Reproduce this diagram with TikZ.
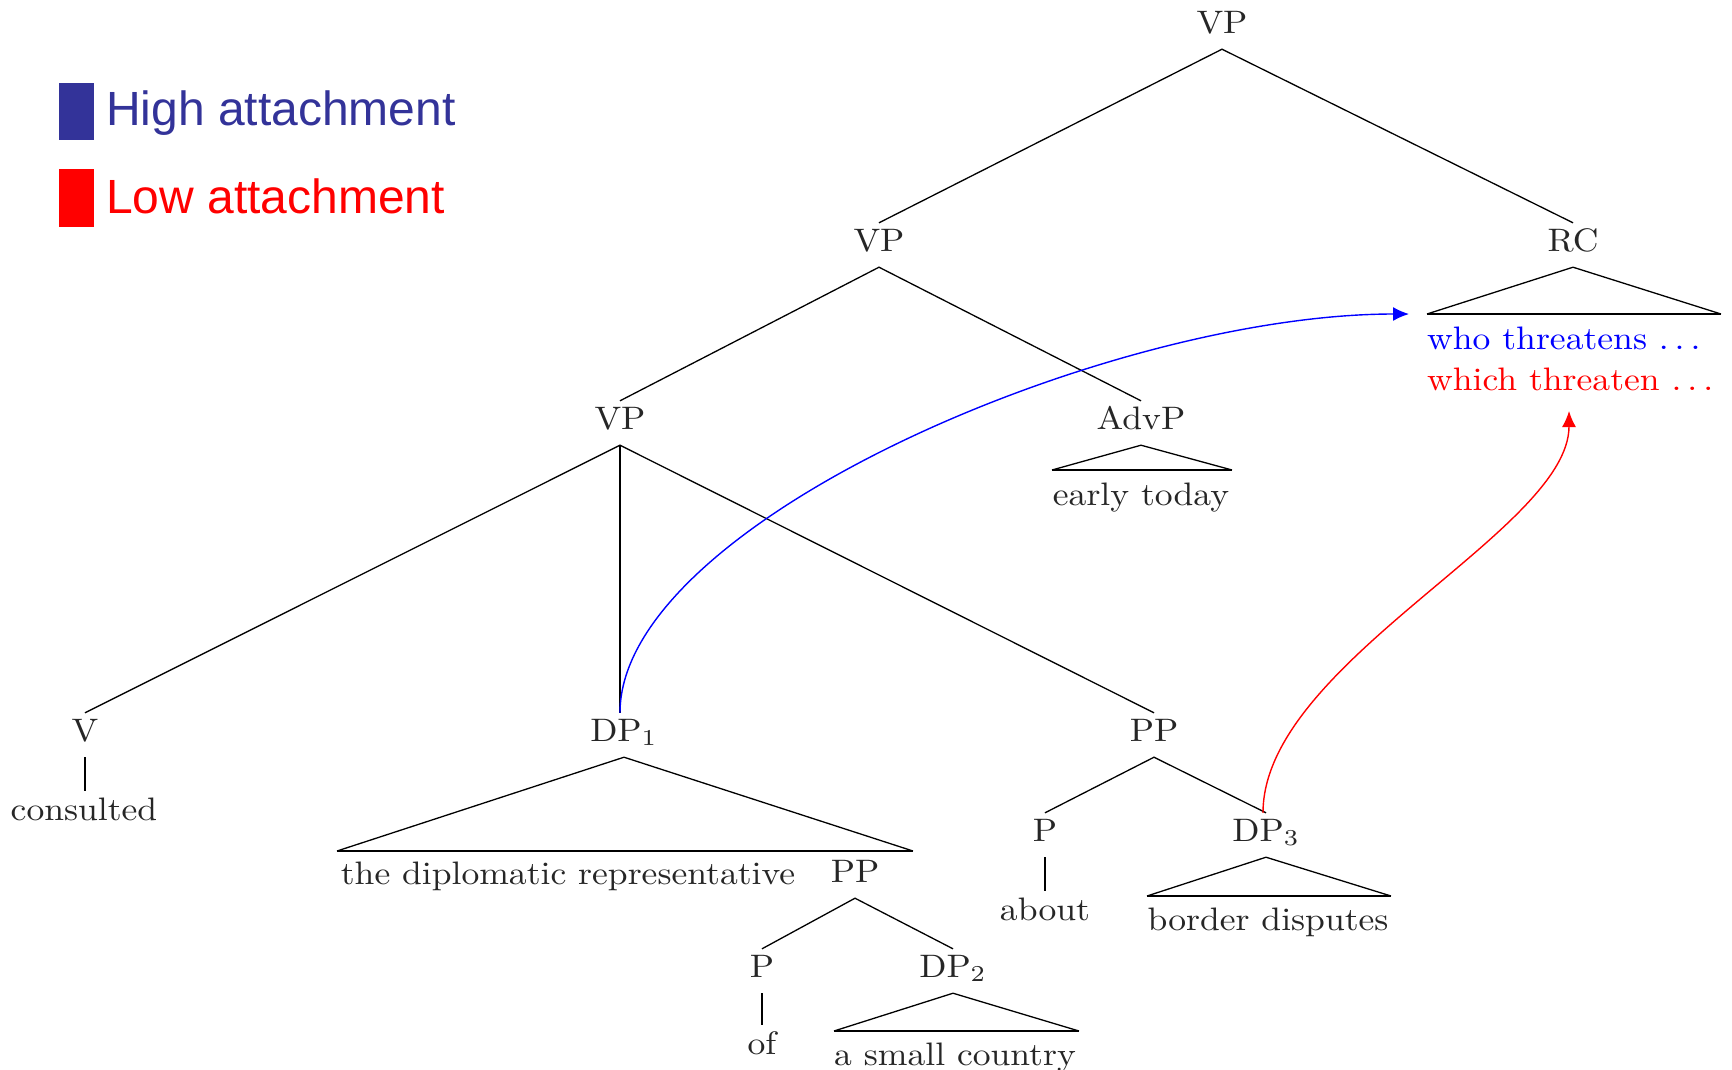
\documentclass[tikz,border=0pt]{standalone}
\usepackage{fontspec}
\usepackage{graphicx}
\usetikzlibrary{arrows.meta}
\newfontfamily\legendfont{Liberation Sans}
\definecolor{hiblue}{HTML}{333399}
\newcommand\trtext[1]{\scalebox{3.56}[3.25]{#1}}
\newcommand\spdots{.\kern1.67pt.\kern1.67pt.}
\tikzset{
  lab/.style={anchor=base, inner xsep=2pt, inner ysep=6pt, text height=22pt, text depth=10pt, text=black!85},
  leaf/.style={anchor=base, inner xsep=2pt, inner ysep=7pt, text height=22pt, text depth=7pt, text=black!85},
  branch/.style={line width=1.3pt, black},
  tribase/.style={line width=2pt, black},
  legsq/.style={inner sep=0pt, minimum width=35pt, minimum height=57pt, anchor=north west},
  legtxt/.style={anchor=base west, inner sep=0pt, font=\legendfont\fontsize{48}{57}\selectfont},
  attach/.style={line width=1.4pt, -{Latex[length=16pt,width=14pt]}}
}
\begin{document}
\begin{tikzpicture}[x=1pt,y=-1pt]
\useasboundingbox (0,0) rectangle (1732,1069);
% legend
\node[legsq, fill=hiblue] (hisq) at (59,83) {};
\node[legsq, fill=red, minimum height=58pt] (losq) at (59,169) {};
\node[legtxt, text=hiblue] (hitxt) at (106,125) {High attachment};
\node[legtxt, text=red] (lotxt) at (106,213) {Low attachment};
% labels
\node[lab] (vpt) at (1222,33) {\trtext{VP}};
\node[lab] (vpm) at (879,251) {\trtext{VP}};
\node[lab] (rc) at (1573,251) {\trtext{RC}};
\node[lab] (vpl) at (620,429) {\trtext{VP}};
\node[lab] (advp) at (1141,429) {\trtext{AdvP}};
\node[lab] (v) at (85,741) {\trtext{V}};
\node[lab] (dp1) at (624,741) {\trtext{DP$_1$}};
\node[lab] (ppr) at (1154,741) {\trtext{PP}};
\node[lab] (ppl) at (855,882) {\trtext{PP}};
\node[lab] (pof) at (762,977) {\trtext{P}};
\node[lab] (dp2) at (953,977) {\trtext{DP$_2$}};
\node[lab] (pab) at (1045,841) {\trtext{P}};
\node[lab] (dp3) at (1266,841) {\trtext{DP$_3$}};
% leaves
\node[leaf] (cons) at (84,820) {\trtext{consulted}};
\node[leaf] (tdr) at (568,884) {\trtext{the diplomatic representative}};
\node[leaf] (of) at (762,1054) {\trtext{of}};
\node[leaf] (asc) at (955,1065) {\trtext{a small country}};
\node[leaf] (about) at (1045,920) {\trtext{about}};
\node[leaf] (bd) at (1268,930) {\trtext{border disputes}};
\node[leaf] (et) at (1141,505) {\trtext{early today}};
\node[anchor=base west, inner sep=0pt, text=blue] (who) at (1427,349) {\trtext{who threatens \spdots}};
\node[anchor=base west, inner sep=0pt, text=red] (which) at (1427,390) {\trtext{which threaten \spdots}};
% triangle corners
\coordinate (rcL) at (1427,314); \coordinate (rcR) at (1721,314);
\coordinate (advL) at (1052,470); \coordinate (advR) at (1232,470);
\coordinate (dp1L) at (337,851); \coordinate (dp1R) at (913,851);
\coordinate (dp2L) at (834,1031); \coordinate (dp2R) at (1079,1031);
\coordinate (dp3L) at (1147,896); \coordinate (dp3R) at (1391,896);
\coordinate (bluetip) at (1409,314);
\coordinate (redtip) at (1569,411);
% branches
\draw[branch] (vpm.north) -- (vpt.south) -- (rc.north);
\draw[branch] (vpl.north) -- (vpm.south) -- (advp.north);
\draw[branch] (v.north) -- (vpl.south) -- (ppr.north);
\draw[branch] (vpl.south) -- (vpl.south |- dp1.north);
\draw[branch] (pof.north) -- (ppl.south) -- (dp2.north);
\draw[branch] (pab.north) -- (ppr.south) -- (dp3.north);
\draw[branch] (v.south) -- (v.south |- cons.north);
\draw[branch] (pof.south) -- (pof.south |- of.north);
\draw[branch] (pab.south) -- (pab.south |- about.north);
% triangles
\draw[branch] (rcL) -- (rc.south) -- (rcR);
\draw[tribase] (rcL) -- (rcR);
\draw[branch] (advL) -- (advp.south) -- (advR);
\draw[tribase] (advL) -- (advR);
\draw[branch] (dp1L) -- (dp1.south) -- (dp1R);
\draw[tribase] (dp1L) -- (dp1R);
\draw[branch] (dp2L) -- (dp2.south) -- (dp2R);
\draw[tribase] (dp2L) -- (dp2R);
\draw[branch] (dp3L) -- (dp3.south) -- (dp3R);
\draw[tribase] (dp3L) -- (dp3R);
% attachment arrows
\draw[attach, blue] (vpl.south |- dp1.north) .. controls +(0,-190) and +(-300,0) .. (bluetip);
\draw[attach, red] ([xshift=-3pt]dp3.north) .. controls +(0,-150) and +(0,120) .. (redtip);
\end{tikzpicture}
\end{document}
